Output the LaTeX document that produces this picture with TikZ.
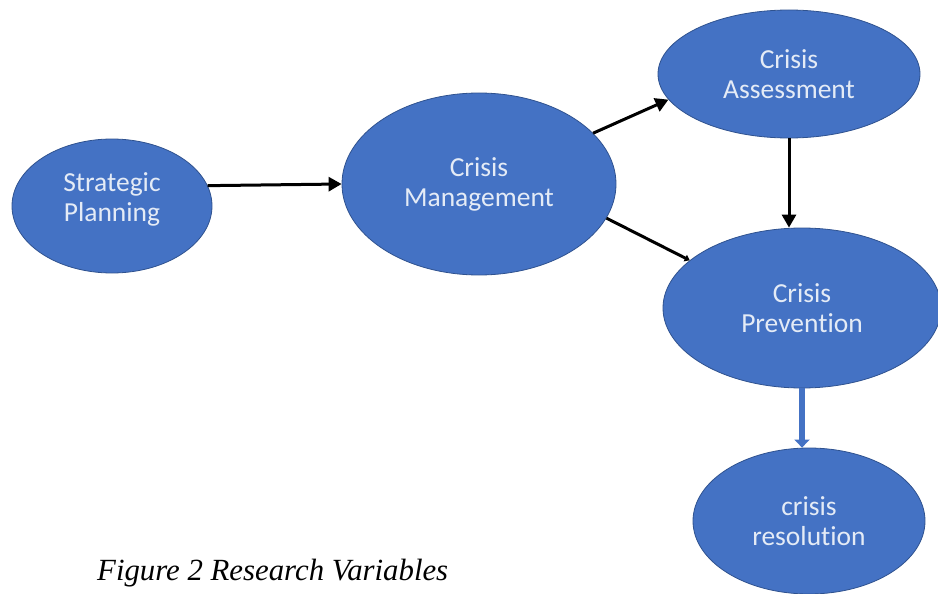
\documentclass[tikz,border=0pt]{standalone}
\usepackage{fontspec}
\setmainfont[Ligatures=CommonOff]{Carlito}
\newfontfamily\capfont{Liberation Serif}
\usetikzlibrary{shapes.geometric,arrows.meta}
\definecolor{ellfill}{HTML}{4472C4}
\definecolor{elldraw}{HTML}{2F528F}
\definecolor{elltext}{HTML}{E4EBF6}
\tikzset{
  ell/.style={ellipse, draw=elldraw, line width=0.8pt, fill=ellfill, text=elltext,
    inner sep=0pt, align=center, font=\fontsize{27.5}{30}\selectfont},
  blackarrow/.style={line width=3pt, -{Triangle[length=13pt,width=14pt]}},
  smallhead/.style={line width=3pt, -{Triangle[length=5pt,width=7pt]}},
  bluearrow/.style={line width=6pt, draw=ellfill, -{Triangle[length=8pt,width=15pt]}}
}
\begin{document}
\begin{tikzpicture}[x=1pt,y=-1pt]
\useasboundingbox (0,0) rectangle (938,594);
\node[ell, minimum width=200pt, minimum height=134pt] (sp) at (112,206) {Strategic\\Planning\\[-12pt]\mbox{}};
\node[ell, minimum width=274pt, minimum height=182pt] (cm) at (479,184) {Crisis\\Management};
\node[ell, minimum width=262pt, minimum height=128pt] (ca) at (789,74) {Crisis\\Assessment};
\node[ell, minimum width=278pt, minimum height=160pt] (cp) at (802,308) {Crisis\\Prevention};
\node[ell, minimum width=232pt, minimum height=146pt] (cr) at (809,521) {crisis\\resolution};
\draw[blackarrow] (sp.12) -- (cm.west);
\draw[blackarrow] (cm.24) -- (ca.192);
\draw[smallhead] (cm.345) -- (cp.157);
\draw[blackarrow] (ca.south) -- (ca.south |- cp.north);
\draw[bluearrow] (cp.south) -- (cp.south |- cr.north);
\node[anchor=base west, inner sep=0pt, font=\capfont\itshape\fontsize{30.8}{34}\selectfont] (cap) at (97,580) {Figure 2 Research Variables};
\end{tikzpicture}
\end{document}
